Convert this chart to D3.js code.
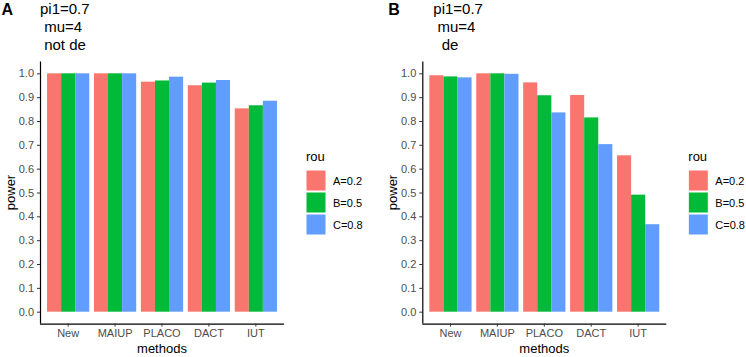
<!DOCTYPE html>
<html>
<head>
<meta charset="utf-8">
<script src="https://cdn.jsdelivr.net/npm/d3@7"></script>
<style>
  body { margin: 0; background: #fff; }
  text { font-family: "Liberation Sans", Arial, sans-serif; }
</style>
</head>
<body>
<svg id="chart" width="746" height="357"></svg>
<script>
// data
const methods = ["New", "MAIUP", "PLACO", "DACT", "IUT"];
const rouLevels = ["A=0.2", "B=0.5", "C=0.8"];
const rouColors = ["#F8766D", "#00BA38", "#619CFF"];
const yTicks = [0, 0.1, 0.2, 0.3, 0.4, 0.5, 0.6, 0.7, 0.8, 0.9, 1.0];

// power by method, one array per rou level
const powerA_rou02 = [1.000, 1.000, 0.965, 0.950, 0.853];
const powerA_rou05 = [1.000, 1.000, 0.970, 0.961, 0.866];
const powerA_rou08 = [1.000, 1.000, 0.986, 0.972, 0.885];

const powerB_rou02 = [0.992, 1.000, 0.962, 0.909, 0.656];
const powerB_rou05 = [0.987, 1.000, 0.908, 0.815, 0.491];
const powerB_rou08 = [0.983, 0.998, 0.836, 0.703, 0.367];

const titleA = ["pi1=0.7", " mu=4", " not de"];
const titleB = ["pi1=0.7", " mu=4", "  de"];

const svg = d3.select("#chart");

/**
 * Draw one ggplot-like panel: bars, axes, title and legend.
 */
function drawPanel(x0, tag, tagX, titleLines, titleX, series) {
    const g = svg.append("g").attr("transform", `translate(${x0},0)`);
    const left = 40, right = 284;
    const top = 61.4, bottom = 323.6;

    const x = d3.scaleBand()
        .domain(methods)
        .range([left, right])
        .paddingInner(0.1)
        .paddingOuter(0.15);

    const xSub = d3.scaleBand()
        .domain(rouLevels)
        .range([0, x.bandwidth()]);

    const y = d3.scaleLinear()
        .domain([-0.05, 1.05])
        .range([bottom, top]);

    const color = d3.scaleOrdinal().domain(rouLevels).range(rouColors);

    // bars
    const rows = [];
    methods.forEach((m, i) => {
        rouLevels.forEach((r, j) => {
            rows.push({method: m, rou: r, value: series[j][i]});
        });
    });

    g.append("g").selectAll("rect")
        .data(rows)
        .join("rect")
        .attr("x", d => x(d.method) + xSub(d.rou))
        .attr("y", d => y(d.value))
        .attr("width", xSub.bandwidth())
        .attr("height", d => y(0) - y(d.value))
        .attr("fill", d => color(d.rou));

    // y axis
    const yAxis = g.append("g")
        .attr("transform", `translate(${left},0)`)
        .call(d3.axisLeft(y).tickValues(yTicks).tickFormat(d3.format(".1f")).tickSize(3).tickPadding(3));
    yAxis.select(".domain").attr("d", `M0.5,${top}V${bottom}`).attr("stroke", "#000").attr("stroke-width", 1.2);
    yAxis.selectAll(".tick line").attr("stroke", "#333");
    yAxis.selectAll(".tick text").attr("fill", "#4d4d4d").style("font-size", "11px");

    // x axis
    const xAxis = g.append("g")
        .attr("transform", `translate(0,${bottom})`)
        .call(d3.axisBottom(x).tickSize(3).tickPadding(3));
    xAxis.select(".domain").attr("d", `M${left},0.5H${right}`).attr("stroke", "#000").attr("stroke-width", 1.2);
    xAxis.selectAll(".tick line").attr("stroke", "#333");
    xAxis.selectAll(".tick text").attr("fill", "#4d4d4d").style("font-size", "11px");

    // axis titles
    g.append("text")
        .attr("x", (left + right) / 2)
        .attr("y", 353)
        .attr("text-anchor", "middle")
        .style("font-size", "13px")
        .text("methods");

    g.append("text")
        .attr("transform", `translate(15,${(top + bottom) / 2}) rotate(-90)`)
        .attr("text-anchor", "middle")
        .style("font-size", "13px")
        .text("power");

    // tag and title
    g.append("text")
        .attr("x", tagX)
        .attr("y", 15)
        .style("font-size", "16px")
        .style("font-weight", "bold")
        .text(tag);

    g.append("text")
        .selectAll("tspan")
        .data(titleLines)
        .join("tspan")
        .attr("x", titleX)
        .attr("y", (d, i) => 13.5 + i * 18.3)
        .style("white-space", "pre")
        .style("font-size", "15px")
        .text(d => d);

    // legend
    const lg = g.append("g").attr("transform", "translate(306,0)");
    lg.append("text")
        .attr("x", 0)
        .attr("y", 160.5)
        .style("font-size", "13px")
        .text("rou");

    const keys = lg.selectAll("g.key")
        .data(rouLevels)
        .join("g")
        .attr("class", "key")
        .attr("transform", (d, i) => `translate(0,${170 + i * 22})`);
    keys.append("rect")
        .attr("width", 20)
        .attr("height", 21)
        .attr("fill", d => color(d))
        .attr("stroke", "#fff")
        .attr("stroke-width", 1);
    keys.append("text")
        .attr("x", 27)
        .attr("y", 15)
        .style("font-size", "11px")
        .text(d => d);
}

drawPanel(0, "A", 1.5, titleA, 40, [powerA_rou02, powerA_rou05, powerA_rou08]);
drawPanel(382.3, "B", 6, titleB, 51, [powerB_rou02, powerB_rou05, powerB_rou08]);
</script>
</body>
</html>
